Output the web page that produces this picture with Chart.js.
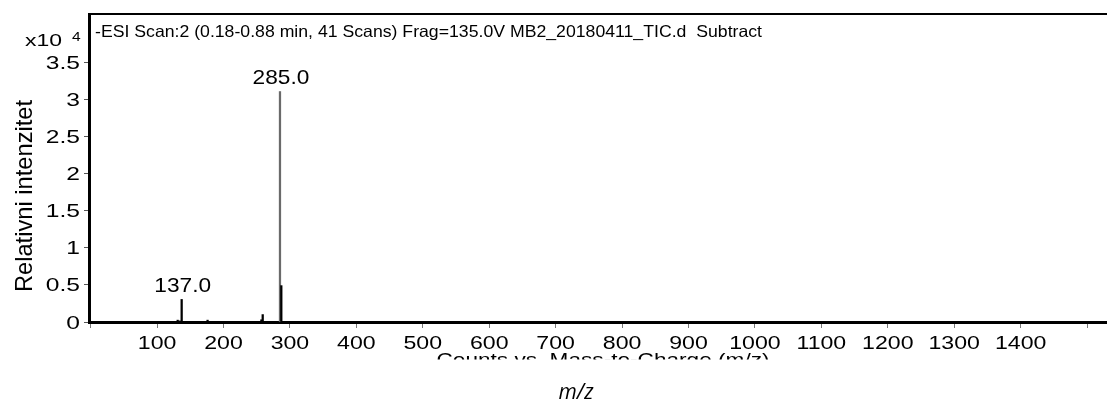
<!DOCTYPE html>
<html>
<head>
<meta charset="utf-8">
<script src="https://cdn.jsdelivr.net/npm/chart.js@4.4.1/dist/chart.umd.min.js"></script>
<style>
  html, body { margin: 0; padding: 0; background: #ffffff; }
  #wrap { width: 1107px; height: 405px; }
</style>
</head>
<body>
<div id="wrap"><canvas id="spectrum" width="1107" height="405"></canvas></div>
<script>
// Mass spectrum peaks: m/z positions and counts
const mz = [131, 134, 137, 176, 257, 259, 285, 287];
const counts = [250, 150, 3040, 250, 300, 1000, 31050, 4900];

// Annotated peaks
const labeledMz = [137, 285];
const labeledText = ['137.0', '285.0'];

// Axis ticks
const xTickValues = [0, 100, 200, 300, 400, 500, 600, 700, 800, 900, 1000, 1100, 1200, 1300, 1400, 1500];
const xTickLabels = ['', '100', '200', '300', '400', '500', '600', '700', '800', '900', '1000', '1100', '1200', '1300', '1400', ''];
const yTickValues = [0, 5000, 10000, 15000, 20000, 25000, 30000, 35000];
const yTickLabels = ['0', '0.5', '1', '1.5', '2', '2.5', '3', '3.5'];

const titleText = '-ESI Scan:2 (0.18-0.88 min, 41 Scans) Frag=135.0V MB2_20180411_TIC.d  Subtract';
const yAxisText = 'Relativni intenzitet';
const xAxisText = 'Counts vs. Mass-to-Charge (m/z)';
const xUnitText = 'm/z';

const SANS = '"Liberation Sans", Arial, sans-serif';
const basePeak = Math.max(...counts);

// Draws text with a horizontal stretch factor; align is left, center or right.
function stretchedText(ctx, text, x, y, font, sx, align) {
  ctx.font = font;
  const w = ctx.measureText(text).width * sx;
  const x0 = align === 'center' ? x - w / 2 : align === 'right' ? x - w : x;
  ctx.save();
  ctx.translate(x0, y);
  ctx.scale(sx, 1);
  ctx.textAlign = 'left';
  ctx.textBaseline = 'alphabetic';
  ctx.fillText(text, 0, 0);
  ctx.restore();
}

// Same, but stretched so that the text spans the given width.
function widthText(ctx, text, x, y, font, width, align) {
  ctx.font = font;
  const sx = width / ctx.measureText(text).width;
  stretchedText(ctx, text, x, y, font, sx, align);
}

const decorations = {
  id: 'decorations',
  afterDraw(chart) {
    const { ctx, chartArea, scales } = chart;
    ctx.save();

    // top frame line
    ctx.strokeStyle = '#000';
    ctx.lineWidth = 2;
    ctx.beginPath();
    ctx.moveTo(chartArea.left - 1, chartArea.top);
    ctx.lineTo(chart.width, chartArea.top);
    ctx.stroke();

    ctx.fillStyle = '#000';

    // scan description
    widthText(ctx, titleText, 95, 37, '16.5px ' + SANS, 667, 'left');

    // exponent marker
    widthText(ctx, 'x10', 25, 46, '16px ' + SANS, 37, 'left');
    stretchedText(ctx, '4', 72, 40.5, '12px ' + SANS, 1.3, 'left');

    // y tick labels
    yTickValues.forEach((v, i) => {
      const py = scales.y.getPixelForValue(v);
      stretchedText(ctx, yTickLabels[i], 80, py + 6.5, '18.5px ' + SANS, 1.33, 'right');
    });

    // x tick labels
    xTickValues.forEach((v, i) => {
      if (!xTickLabels[i]) return;
      const px = scales.x.getPixelForValue(v);
      stretchedText(ctx, xTickLabels[i], px, 348.5, '18.5px ' + SANS, 1.25, 'center');
    });

    // y axis caption
    ctx.save();
    ctx.translate(31.5, 196);
    ctx.rotate(-Math.PI / 2);
    ctx.textAlign = 'center';
    ctx.textBaseline = 'alphabetic';
    ctx.font = '23.7px ' + SANS;
    ctx.fillText(yAxisText, 0, 0);
    ctx.restore();

    // peak annotations
    labeledMz.forEach((m, i) => {
      const idx = mz.indexOf(m);
      const px = scales.x.getPixelForValue(m);
      const py = scales.y.getPixelForValue(counts[idx]);
      stretchedText(ctx, labeledText[i], px + 1, py - 7.5, '21px ' + SANS, 1.08, 'center');
    });

    // x axis caption, partly hidden below the tick labels
    ctx.save();
    ctx.beginPath();
    ctx.rect(0, 351, chart.width, 8.5);
    ctx.clip();
    widthText(ctx, xAxisText, 603, 365.5, '18.5px ' + SANS, 333, 'center');
    ctx.restore();

    // unit caption
    ctx.font = 'italic 21px "Open Sans", "DejaVu Sans", sans-serif';
    ctx.textAlign = 'center';
    ctx.textBaseline = 'alphabetic';
    ctx.fillText(xUnitText, 576, 399);

    ctx.restore();
  }
};

new Chart(document.getElementById('spectrum'), {
  type: 'bar',
  data: {
    datasets: [{
      data: mz.map((m, i) => ({ x: m, y: counts[i] })),
      barThickness: 1.6,
      backgroundColor: c => (c.raw && c.raw.y === basePeak) ? '#6a6a6a' : '#000000',
      borderWidth: 0
    }]
  },
  options: {
    responsive: false,
    animation: false,
    devicePixelRatio: 1,
    layout: { padding: { top: 14, right: 0, left: 0, bottom: 0 } },
    plugins: { legend: { display: false }, tooltip: { enabled: false } },
    scales: {
      x: {
        type: 'linear',
        min: -2.5,
        max: 1530,
        offset: false,
        afterFit: s => { s.height = 83; },
        afterBuildTicks: s => { s.ticks = xTickValues.map(v => ({ value: v })); },
        grid: { offset: false, drawOnChartArea: false, drawTicks: true, tickLength: 6, color: '#777', lineWidth: 1 },
        border: { display: true, color: '#000', width: 3 },
        ticks: { display: false, autoSkip: false, maxRotation: 0 }
      },
      y: {
        type: 'linear',
        min: 0,
        max: 41500,
        afterFit: s => { s.width = 89; },
        afterBuildTicks: s => { s.ticks = yTickValues.map(v => ({ value: v })); },
        grid: { drawOnChartArea: false, drawTicks: true, tickLength: 5, color: '#555', lineWidth: 1 },
        border: { display: true, color: '#000', width: 3 },
        ticks: { display: false, autoSkip: false }
      }
    }
  },
  plugins: [decorations]
});
</script>
</body>
</html>
